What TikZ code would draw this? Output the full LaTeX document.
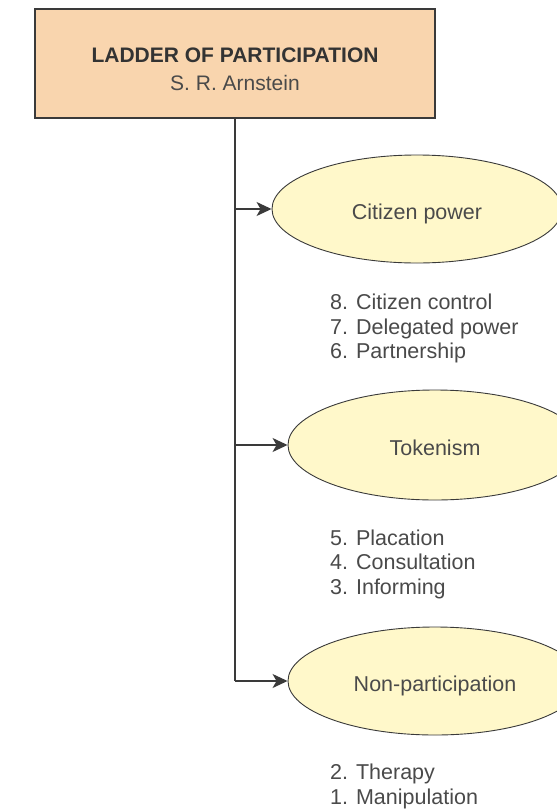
\documentclass[tikz,border=0pt]{standalone}
\usepackage{fontspec}
\setmainfont{Liberation Sans}
\usetikzlibrary{arrows.meta,shapes.geometric}

\definecolor{boxfill}{HTML}{F9D5AE}
\definecolor{ovalfill}{HTML}{FFF8CA}
\definecolor{edgegray}{HTML}{3A3A3A}
\definecolor{txtdark}{HTML}{333333}
\definecolor{txtgray}{HTML}{4A4A4A}

\tikzset{
  titlebox/.style={draw=edgegray, line width=1.4pt, fill=boxfill,
    minimum width=400pt, minimum height=109pt, inner sep=0pt,
    align=center, font=\fontsize{21}{28}\selectfont},
  levelbox/.style={ellipse, draw=edgegray, line width=0.9pt, fill=ovalfill,
    inner sep=0pt, text=txtgray, text height=20pt, text depth=0pt,
    font=\fontsize{21.5}{24}\selectfont},
  rungs/.style={anchor=west, inner sep=0pt, align=left, text=txtgray,
    font=\fontsize{21.5}{24.5}\selectfont},
  link/.style={draw=edgegray, line width=1.3pt,
    -{Stealth[length=15pt,width=14pt,inset=4pt]}},
}

\begin{document}
\begin{tikzpicture}[x=1pt, y=-1pt]
  \clip (0,0) rectangle (557,809);
  \fill[white] (0,0) rectangle (557,809);

  % heading
  \node[titlebox] (head) at (235,63.5)
    {\rule{0pt}{26pt}\textcolor{txtdark}{\bfseries LADDER OF PARTICIPATION}\\
     \textcolor{txtgray}{S. R. Arnstein}};

  % the three groups of rungs
  \node[levelbox, minimum width=290pt, minimum height=108pt] (power) at (417,209) {Citizen power};
  \node[levelbox, minimum width=294pt, minimum height=110pt] (token) at (435,445) {Tokenism};
  \node[levelbox, minimum width=294pt, minimum height=108pt] (nonpart) at (435,681) {Non-participation};

  % rungs listed under each group
  \node[rungs] (rpower) at (330,328.5) {8. Citizen control\\7. Delegated power\\6. Partnership};
  \node[rungs] (rtoken) at (330,564) {5. Placation\\4. Consultation\\3. Informing};
  \node[rungs] (rnon) at (330,786.5) {2. Therapy\\1. Manipulation};

  % trunk and branches
  \coordinate (bend) at (235,681);
  \coordinate (j1) at (235,209);
  \coordinate (j2) at (235,445);
  \draw[draw=edgegray, line width=1.3pt] (head.south) -- (bend);
  \draw[link] (j1) -- (power.west);
  \draw[link] (j2) -- (token.west);
  \draw[link] (bend) -- (nonpart.west);
\end{tikzpicture}
\end{document}
